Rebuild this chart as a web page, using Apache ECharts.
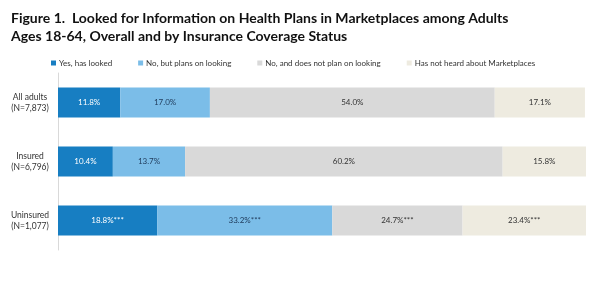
<!DOCTYPE html>
<html><head><meta charset="utf-8">
<script src="https://cdn.jsdelivr.net/npm/echarts@6/dist/echarts.min.js"></script>
<style>html,body{margin:0;padding:0;background:#fff}#c{width:600px;height:300px}</style>
</head><body><div id="c"></div>
<script>
const categories = ['All adults\n(N=7,873)', 'Insured\n(N=6,796)', 'Uninsured\n(N=1,077)'];
const seriesNames = ['Yes, has looked', 'No, but plans on looking', 'No, and does not plan on looking', 'Has not heard about Marketplaces'];
const yesLooked = [11.8, 10.4, 18.8];
const plansLooking = [17.0, 13.7, 33.2];
const notPlan = [54.0, 60.2, 24.7];
const notHeard = [17.1, 15.8, 23.4];
const significance = ['', '', '***'];
const colors = ['#177ec2', '#7bbde8', '#d9d9d9', '#eeebe0'];
const labelColors = ['#ffffff', '#1f3a5a', '#333333', '#333333'];
const values = [yesLooked, plansLooking, notPlan, notHeard];

const chart = echarts.init(document.getElementById('c'), null, {renderer: 'canvas'});
chart.setOption({
  animation: false,
  title: {
    text: 'Figure 1.  Looked for Information on Health Plans in Marketplaces among Adults\nAges 18-64, Overall and by Insurance Coverage Status',
    left: 6, top: 4,
    textStyle: {fontFamily: 'Lato', fontWeight: 'bold', fontSize: 14, lineHeight: 18, color: '#111'}
  },
  legend: {
    top: 54, left: 46, itemWidth: 5, itemHeight: 5, itemGap: 26,
    icon: 'rect',
    textStyle: {fontFamily: 'Lato', fontSize: 8, color: '#333', padding: [0, 0, 0, -2]},
    data: seriesNames
  },
  grid: {left: 58, right: 14, top: 73, bottom: 50},
  xAxis: {type: 'value', min: 0, max: 100.1, show: false},
  yAxis: {
    type: 'category', inverse: true, data: categories,
    axisLine: {show: true, lineStyle: {color: '#d9d9d9', width: 1}},
    axisTick: {show: false},
    axisLabel: {fontFamily: 'Lato', fontSize: 8.5, color: '#333', lineHeight: 11, align: 'center', margin: 28}
  },
  series: values.map((vals, i) => ({
    name: seriesNames[i], type: 'bar', stack: 'total', barWidth: 30,
    itemStyle: {color: colors[i]},
    data: vals,
    label: {
      show: true, position: 'inside', fontFamily: 'Lato', fontSize: 8, color: labelColors[i],
      formatter: p => p.value.toFixed(1) + '%' + significance[p.dataIndex]
    }
  }))
});
</script></body></html>
